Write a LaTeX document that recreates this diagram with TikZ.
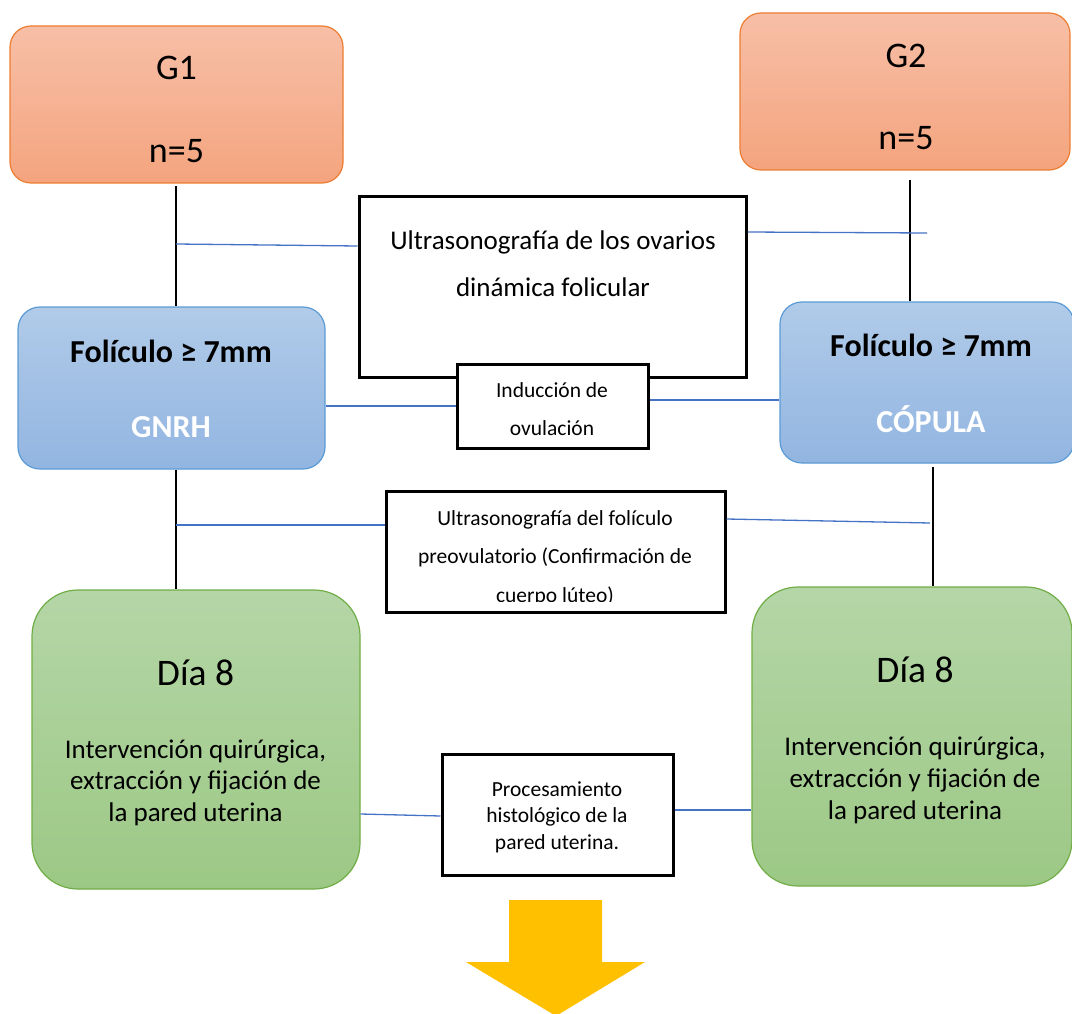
\documentclass[tikz,border=0pt]{standalone}
\usepackage{fontspec}
\setmainfont{Carlito}
\usepackage{xcolor}
\usetikzlibrary{positioning}

\definecolor{naranja}{HTML}{ED7D31}
\definecolor{naranjaA}{HTML}{F7BFA7}
\definecolor{naranjaB}{HTML}{F4A47E}
\definecolor{azul}{HTML}{5B9BD5}
\definecolor{azulA}{HTML}{B1CBE9}
\definecolor{azulB}{HTML}{92B5E1}
\definecolor{verde}{HTML}{70AD47}
\definecolor{verdeA}{HTML}{B5D6A7}
\definecolor{verdeB}{HTML}{9CC885}
\definecolor{azulenlace}{HTML}{4472C4}
\definecolor{amarillo}{HTML}{FFC000}

\begin{document}
\begin{tikzpicture}[x=1pt, y=-1pt,
  grupo/.style={draw=naranja, line width=1.2pt, rounded corners=21pt, top color=naranjaA, bottom color=naranjaB},
  foliculo/.style={draw=azul, line width=1.2pt, rounded corners=22pt, top color=azulA, bottom color=azulB},
  dia/.style={draw=verde, line width=1.2pt, rounded corners=46pt, top color=verdeA, bottom color=verdeB},
  paso/.style={draw=black, line width=3pt, fill=white},
  tronco/.style={line width=2pt},
  enlace/.style={draw=azulenlace, line width=1.3pt},
  texto/.style={anchor=base, align=center, inner sep=0pt}]
  % frame of the page
  \useasboundingbox (0,0) rectangle (1072,1014);
  \clip (0,0) rectangle (1072,1014);
  % group boxes (text placed at the last baseline)
  \node[grupo, minimum width=333pt, minimum height=157pt] (g1) at (176.5,104.5) {};
  \node[grupo, minimum width=330pt, minimum height=157pt] (g2) at (905,91.5) {};
  \node[texto, font=\fontsize{36}{83}\selectfont] (g1t) at (176.5,163) {G1\\n=5};
  \node[texto, font=\fontsize{36}{83}\selectfont] (g2t) at (906,150) {G2\\n=5};
  % ultrasound boxes
  \node[paso, minimum width=387pt, minimum height=180pt] (eco1) at (552.5,287) {};
  \node[texto, font=\fontsize{27}{47}\selectfont] (eco1t) at (553,296) {Ultrasonografía de los ovarios\\dinámica folicular};
  \node[paso, minimum width=191pt, minimum height=84pt] (ind) at (552.5,406) {};
  \node[texto, font=\fontsize{21.5}{38}\selectfont] (indt) at (552,435) {Inducción de\\ovulación};
  % follicle boxes
  \node[foliculo, minimum width=307pt, minimum height=162pt] (fol1) at (171.5,388) {};
  \node[foliculo, minimum width=294pt, minimum height=161pt] (fol2) at (927,382.5) {};
  \node[texto, font=\fontsize{32}{75}\selectfont\bfseries] (fol1t) at (171,437) {Folículo ≥ 7mm\\\textcolor{white}{GNRH}};
  \node[texto, font=\fontsize{32}{76}\selectfont\bfseries] (fol2t) at (931,432) {Folículo ≥ 7mm\\\textcolor{white}{CÓPULA}};
  % second ultrasound
  \node[paso, minimum width=339pt, minimum height=121pt] (eco2) at (555.5,551.5) {};
  \begin{scope}
    \clip (386,491) rectangle (725,601);
    \node[texto, font=\fontsize{21.5}{38.5}\selectfont] (eco2t) at (555,602) {Ultrasonografía del folículo\\preovulatorio (Confirmación de\\cuerpo lúteo)};
  \end{scope}
  % day 8 boxes
  \node[dia, minimum width=328pt, minimum height=299pt] (dia1) at (196,739.5) {};
  \node[dia, minimum width=320pt, minimum height=299pt] (dia2) at (912,736.5) {};
  \node[texto, font=\fontsize{37.5}{40}\selectfont] (dia1a) at (195.5,685) {Día 8};
  \node[texto, font=\fontsize{37.5}{40}\selectfont] (dia2a) at (915,682) {Día 8};
  \node[texto, font=\fontsize{27}{31.5}\selectfont] (dia1b) at (195.5,821) {Intervención quirúrgica,\\extracción y fijación de\\la pared uterina};
  \node[texto, font=\fontsize{27}{32}\selectfont] (dia2b) at (915,819) {Intervención quirúrgica,\\extracción y fijación de\\la pared uterina};
  % histology box
  \node[paso, minimum width=231pt, minimum height=121pt] (proc) at (557.5,814.5) {};
  \node[texto, font=\fontsize{21.5}{26.5}\selectfont] (proct) at (557,849) {Procesamiento\\histológico de la\\pared uterina.};
  % black trunk lines
  \coordinate (c1) at (176,186);
  \coordinate (c2) at (910,180);
  \coordinate (c3) at (933,467);
  \draw[tronco] (c1) -- (c1 |- fol1.north);
  \draw[tronco] (c1 |- fol1.south) -- (c1 |- dia1.north);
  \draw[tronco] (c2) -- (c2 |- fol2.north);
  \draw[tronco] (c3) -- (c3 |- dia2.north);
  % blue links
  \coordinate (u1) at (176,244);
  \coordinate (u2) at (927,233);
  \coordinate (u3) at (176,525);
  \coordinate (u4) at (930,523);
  \draw[enlace] (u1) -- (eco1.west |- 0,246);
  \draw[enlace] (eco1.east |- 0,232) -- (u2);
  \draw[enlace] (fol1.east |- ind.west) -- (ind.west);
  \draw[enlace] (ind.east |- 0,400) -- (fol2.west |- 0,400);
  \draw[enlace] (u3) -- (eco2.west |- u3);
  \draw[enlace] (eco2.east |- 0,519) -- (u4);
  \draw[enlace] (dia1.east |- 0,814) -- (proc.west |- 0,816);
  \draw[enlace] (proc.east |- 0,810) -- (dia2.west |- 0,810);
  % result arrow
  \fill[amarillo] (509,900) -- (602,900) -- (602,962) -- (645,962) -- (556,1016) -- (466,962) -- (509,962) -- cycle;
\end{tikzpicture}
\end{document}
